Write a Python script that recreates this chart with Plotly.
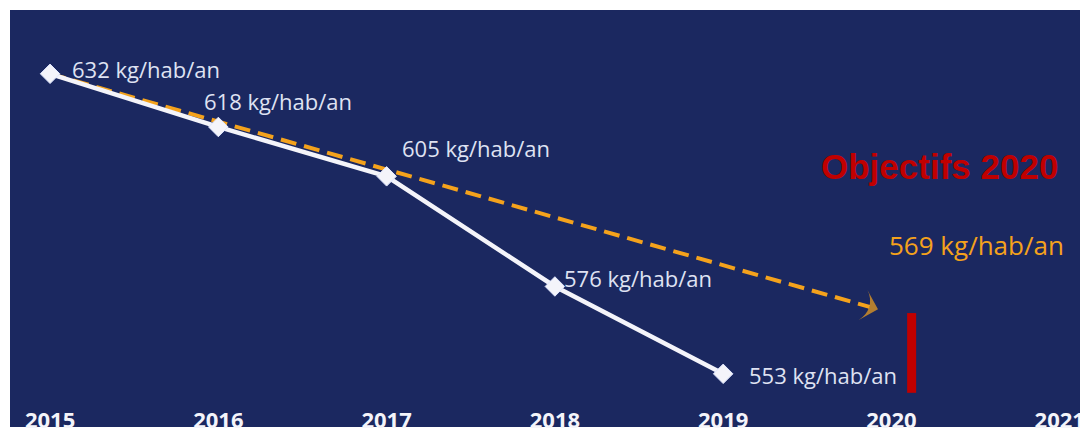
import plotly.graph_objects as go

years = [2015, 2016, 2017, 2018, 2019]
values = [632, 618, 605, 576, 553]
trend_years = [2015, 2019.92]
trend_values = [632, 570]
goal_year = 2020.12
goal_values = [569, 548]
goal_label = "569 kg/hab/an"
goal_title = "Objectifs 2020"
tick_years = [2015, 2016, 2017, 2018, 2019, 2020, 2021]

NAVY = "#1b2860"
WHITE = "#f4f4fa"
LABEL = "#dfe2f2"
ORANGE = "#f4a21c"
RED = "#c00000"

fig = go.Figure()

# trend dashed arrow
fig.add_trace(go.Scatter(
    x=trend_years, y=trend_values, mode="lines+markers",
    line=dict(color=ORANGE, width=4, dash="16px,8px"),
    marker=dict(symbol=["circle", "arrow-wide"], size=[0, 22], angleref="previous",
                color=ORANGE, line=dict(width=0)),
    hoverinfo="skip", showlegend=False))

# goal red bar
fig.add_trace(go.Scatter(
    x=[goal_year, goal_year], y=goal_values, mode="lines",
    line=dict(color=RED, width=9), hoverinfo="skip", showlegend=False))

# actual line
fig.add_trace(go.Scatter(
    x=years, y=values, mode="lines+markers",
    line=dict(color=WHITE, width=4.5),
    marker=dict(symbol="diamond", size=15, color=WHITE, line=dict(color="#dfe6ff", width=1)),
    showlegend=False))

offsets = [(20, 5), (-16, 26), (13, 28), (7, 8), (24, -1)]
for x, v, (dx, dy) in zip(years, values, offsets):
    fig.add_annotation(x=x, y=v, text=f"{v} kg/hab/an", showarrow=False,
                       xanchor="left", yanchor="middle", xshift=dx, yshift=dy,
                       font=dict(family="Open Sans", size=22, color=LABEL))

fig.add_annotation(x=2020.288, y=607.5, text=f"<b>{goal_title}</b>", showarrow=False,
                   xanchor="center", yanchor="middle",
                   font=dict(family="Liberation Sans", size=35, color=RED))
fig.add_annotation(x=2020.505, y=587.0, text=goal_label, showarrow=False,
                   xanchor="center", yanchor="middle",
                   font=dict(family="Open Sans", size=26, color=ORANGE))

fig.update_layout(
    width=1080, height=426,
    margin=dict(l=2, r=0, t=2, b=0, pad=0),
    paper_bgcolor="white", plot_bgcolor=NAVY,
    xaxis=dict(range=[2014.762, 2021.168], tickvals=tick_years, ticktext=[str(t) for t in tick_years],
               ticklabelposition="inside", ticklabelstandoff=-8,
               showgrid=False, zeroline=False, showline=False,
               tickfont=dict(family="Open Sans", size=22, color=WHITE, weight="bold"), ticks=""),
    yaxis=dict(range=[539, 648.8], showgrid=False, zeroline=False, showticklabels=False, showline=False),
)

fig.write_html("out.html")
